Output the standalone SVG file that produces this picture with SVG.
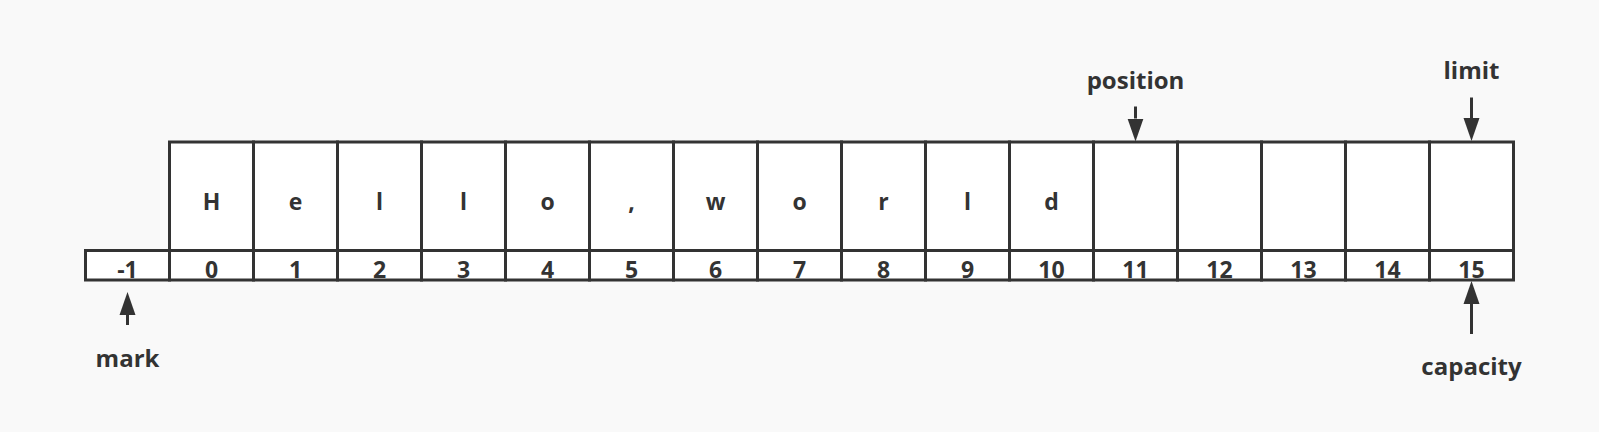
<svg xmlns="http://www.w3.org/2000/svg" width="1599" height="432" viewBox="0 0 1599 432">
<style>
.cell{fill:#ffffff;stroke:#333333;stroke-width:3}
.t{font-family:"Open Sans","Liberation Sans",sans-serif;font-weight:bold;fill:#333333;text-anchor:middle}
.ch{font-size:23px}
.num{font-size:23px}
.lbl{font-size:24px}
.arr{stroke:#333333;stroke-width:3;fill:none}
</style>
<defs>
<marker id="ah" markerUnits="userSpaceOnUse" markerWidth="24" markerHeight="17" refX="0" refY="8.5" orient="auto" viewBox="0 0 24 17">
<path d="M0,0.5 L23,8.5 L0,16.5 z" fill="#333333"/>
</marker>
</defs>
<rect width="1599" height="432" fill="#f9f9f9"/>
<g id="cells">
<g id="cell-m1"><rect class="cell" x="85.5" y="250.5" width="84" height="29.5"/><text class="t num" x="127.5" y="277.5">-1</text></g>
<g id="cell-0"><rect class="cell" x="169.5" y="142" width="84" height="108.5"/><rect class="cell" x="169.5" y="250.5" width="84" height="29.5"/><text class="t ch" x="211.5" y="210">H</text><text class="t num" x="211.5" y="277.5">0</text></g>
<g id="cell-1"><rect class="cell" x="253.5" y="142" width="84" height="108.5"/><rect class="cell" x="253.5" y="250.5" width="84" height="29.5"/><text class="t ch" x="295.5" y="210">e</text><text class="t num" x="295.5" y="277.5">1</text></g>
<g id="cell-2"><rect class="cell" x="337.5" y="142" width="84" height="108.5"/><rect class="cell" x="337.5" y="250.5" width="84" height="29.5"/><text class="t ch" x="379.5" y="210">l</text><text class="t num" x="379.5" y="277.5">2</text></g>
<g id="cell-3"><rect class="cell" x="421.5" y="142" width="84" height="108.5"/><rect class="cell" x="421.5" y="250.5" width="84" height="29.5"/><text class="t ch" x="463.5" y="210">l</text><text class="t num" x="463.5" y="277.5">3</text></g>
<g id="cell-4"><rect class="cell" x="505.5" y="142" width="84" height="108.5"/><rect class="cell" x="505.5" y="250.5" width="84" height="29.5"/><text class="t ch" x="547.5" y="210">o</text><text class="t num" x="547.5" y="277.5">4</text></g>
<g id="cell-5"><rect class="cell" x="589.5" y="142" width="84" height="108.5"/><rect class="cell" x="589.5" y="250.5" width="84" height="29.5"/><text class="t ch" x="631.5" y="210">,</text><text class="t num" x="631.5" y="277.5">5</text></g>
<g id="cell-6"><rect class="cell" x="673.5" y="142" width="84" height="108.5"/><rect class="cell" x="673.5" y="250.5" width="84" height="29.5"/><text class="t ch" x="715.5" y="210">w</text><text class="t num" x="715.5" y="277.5">6</text></g>
<g id="cell-7"><rect class="cell" x="757.5" y="142" width="84" height="108.5"/><rect class="cell" x="757.5" y="250.5" width="84" height="29.5"/><text class="t ch" x="799.5" y="210">o</text><text class="t num" x="799.5" y="277.5">7</text></g>
<g id="cell-8"><rect class="cell" x="841.5" y="142" width="84" height="108.5"/><rect class="cell" x="841.5" y="250.5" width="84" height="29.5"/><text class="t ch" x="883.5" y="210">r</text><text class="t num" x="883.5" y="277.5">8</text></g>
<g id="cell-9"><rect class="cell" x="925.5" y="142" width="84" height="108.5"/><rect class="cell" x="925.5" y="250.5" width="84" height="29.5"/><text class="t ch" x="967.5" y="210">l</text><text class="t num" x="967.5" y="277.5">9</text></g>
<g id="cell-10"><rect class="cell" x="1009.5" y="142" width="84" height="108.5"/><rect class="cell" x="1009.5" y="250.5" width="84" height="29.5"/><text class="t ch" x="1051.5" y="210">d</text><text class="t num" x="1051.5" y="277.5">10</text></g>
<g id="cell-11"><rect class="cell" x="1093.5" y="142" width="84" height="108.5"/><rect class="cell" x="1093.5" y="250.5" width="84" height="29.5"/><text class="t num" x="1135.5" y="277.5">11</text></g>
<g id="cell-12"><rect class="cell" x="1177.5" y="142" width="84" height="108.5"/><rect class="cell" x="1177.5" y="250.5" width="84" height="29.5"/><text class="t num" x="1219.5" y="277.5">12</text></g>
<g id="cell-13"><rect class="cell" x="1261.5" y="142" width="84" height="108.5"/><rect class="cell" x="1261.5" y="250.5" width="84" height="29.5"/><text class="t num" x="1303.5" y="277.5">13</text></g>
<g id="cell-14"><rect class="cell" x="1345.5" y="142" width="84" height="108.5"/><rect class="cell" x="1345.5" y="250.5" width="84" height="29.5"/><text class="t num" x="1387.5" y="277.5">14</text></g>
<g id="cell-15"><rect class="cell" x="1429.5" y="142" width="84" height="108.5"/><rect class="cell" x="1429.5" y="250.5" width="84" height="29.5"/><text class="t num" x="1471.5" y="277.5">15</text></g>
</g>
<g id="labels">
<g id="lbl-position"><text class="t lbl" x="1135.5" y="89">position</text></g>
<g id="lbl-limit"><text class="t lbl" x="1471.5" y="79">limit</text></g>
<g id="lbl-mark"><text class="t lbl" x="127.5" y="367">mark</text></g>
<g id="lbl-capacity"><text class="t lbl" x="1471.5" y="375">capacity</text></g>
</g>
<g id="connectors">
<path class="arr" d="M1135.5,106.5 V118.5" marker-end="url(#ah)"/>
<path class="arr" d="M1471.5,97.5 V118" marker-end="url(#ah)"/>
<path class="arr" d="M127.5,325 V315" marker-end="url(#ah)"/>
<path class="arr" d="M1471.5,334 V304" marker-end="url(#ah)"/>
</g>
</svg>
